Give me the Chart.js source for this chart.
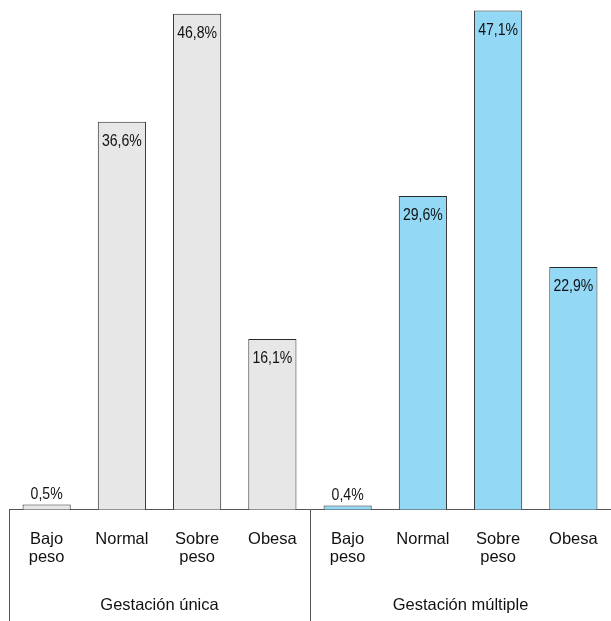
<!DOCTYPE html>
<html>
<head>
<meta charset="utf-8">
<script src="https://cdn.jsdelivr.net/npm/chart.js@4/dist/chart.umd.min.js"></script>
<style>
html,body{margin:0;padding:0;background:#fff;}
#wrap{width:611px;height:621px;position:relative;}
</style>
</head>
<body>
<div id="wrap"><canvas id="c" width="611" height="621"></canvas></div>
<script>
const categories = [["Bajo","peso"],["Normal"],["Sobre","peso"],["Obesa"]];
const groups = ["Gestación única","Gestación múltiple"];
const unicaValues = [0.5, 36.6, 46.8, 16.1];
const multipleValues = [0.4, 29.6, 47.1, 22.9];
const groupColors = ["#e6e7e6", "#93d9f6"];

const labels = categories.concat(categories);
const values = unicaValues.concat(multipleValues);
const fills = unicaValues.map(()=>groupColors[0]).concat(multipleValues.map(()=>groupColors[1]));

const FONT = "'Liberation Sans', Arial, Helvetica, sans-serif";

const decor = {
  id: 'decor',
  afterDraw(chart) {
    const ctx = chart.ctx;
    const x = chart.scales.x;
    const area = chart.chartArea;
    const half = (x.getPixelForValue(1) - x.getPixelForValue(0)) / 2;
    ctx.save();
    ctx.strokeStyle = '#555';
    ctx.lineWidth = 1;
    const seps = [x.getPixelForValue(0) - half, (x.getPixelForValue(3) + x.getPixelForValue(4)) / 2];
    seps.forEach(px => {
      const p = Math.round(px) + 0.5;
      ctx.beginPath();
      ctx.moveTo(p, area.bottom);
      ctx.lineTo(p, chart.height);
      ctx.stroke();
    });
    ctx.fillStyle = '#111';
    ctx.font = '16.5px ' + FONT;
    ctx.textAlign = 'center';
    ctx.textBaseline = 'alphabetic';
    const g1 = (x.getPixelForValue(0) + x.getPixelForValue(3)) / 2;
    const g2 = (x.getPixelForValue(4) + x.getPixelForValue(7)) / 2;
    ctx.fillText(groups[0], g1, 610);
    ctx.fillText(groups[1], g2, 610);
    ctx.font = '16px ' + FONT;
    ctx.textBaseline = 'middle';
    const meta = chart.getDatasetMeta(0);
    meta.data.forEach((bar, i) => {
      const v = values[i];
      const txt = v.toFixed(1).replace('.', ',') + '%';
      const y = v > 5 ? bar.y + 20 : bar.y - 10;
      ctx.save();
      ctx.translate(bar.x, y);
      ctx.scale(0.88, 1);
      ctx.fillText(txt, 0, 0);
      ctx.restore();
    });
    ctx.restore();
  }
};

new Chart(document.getElementById('c'), {
  type: 'bar',
  data: {
    labels: labels,
    datasets: [{
      data: values,
      backgroundColor: fills,
      borderColor: '#2a2a2a',
      borderWidth: 1,
      categoryPercentage: 1,
      barPercentage: 0.64
    }]
  },
  options: {
    responsive: false,
    animation: false,
    layout: { padding: { top: 1, left: 9, right: -7, bottom: 41 } },
    plugins: { legend: { display: false }, tooltip: { enabled: false } },
    scales: {
      x: {
        offset: true,
        grid: { display: false },
        border: { display: true, color: '#555', width: 1 },
        ticks: {
          color: '#111',
          font: { family: FONT, size: 16.5, lineHeight: 1.1 },
          padding: 13,
          maxRotation: 0,
          autoSkip: false
        }
      },
      y: {
        display: false,
        min: 0,
        max: 48
      }
    }
  },
  plugins: [decor]
});
</script>
</body>
</html>
